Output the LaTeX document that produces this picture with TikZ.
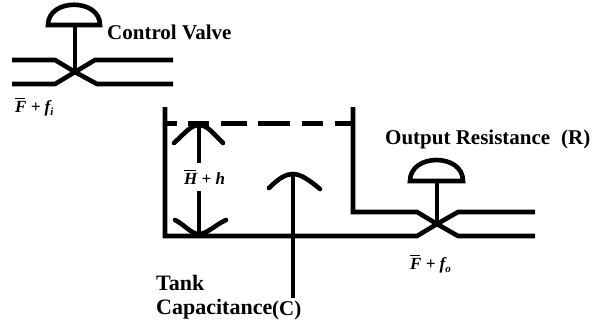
\documentclass[tikz,border=0pt]{standalone}
\usepackage{fontspec}
\setmainfont{Liberation Serif}
\tikzset{
  pipe/.style={line width=4.6pt,line join=miter},
  label text/.style={font=\bfseries\fontsize{21}{23}\selectfont,text=black,inner sep=0pt,anchor=base west},
  tank text/.style={label text,font=\bfseries\fontsize{22}{24}\selectfont},
  math text/.style={font=\bfseries\itshape\fontsize{17}{19}\selectfont,inner sep=0pt,anchor=base west}
}
\newcommand{\barF}{\rlap{\raisebox{0.78em}{\rule{0.6em}{0.8pt}}}F}
\newcommand{\barH}{\rlap{\raisebox{0.78em}{\rule{0.72em}{0.8pt}}}H}
\begin{document}
\begin{tikzpicture}[x=1pt,y=-1pt]
\useasboundingbox (0,0) rectangle (592,322);
% inlet valve
\draw[pipe] (12,60) -- (55,60) -- (75,72) -- (95,60) -- (173,60);
\draw[pipe] (12,84) -- (55,84) -- (75,72) -- (97,84) -- (173,84);
\draw[pipe] (75,72) -- (75,25);
\draw[pipe] (48,25) -- (100,25) .. controls (100,-2) and (48,-2) .. cycle;
% tank
\draw[pipe] (165,107) -- (165,236) -- (417,236) -- (437,224) -- (458,236) -- (535,236);
\draw[pipe] (353,107) -- (353,212) -- (417,212) -- (437,224) -- (458,212) -- (535,212);
% outlet valve
\draw[pipe] (437,224) -- (437,181);
\draw[pipe] (410,181) -- (463,181) .. controls (463,153) and (410,153) .. cycle;
% level
\draw[pipe] (167,123.5) -- (177,123.5);
\draw[pipe] (188,123.5) -- (209,123.5);
\draw[pipe] (221,123.5) -- (247,123.5);
\draw[pipe] (258,123.5) -- (290,123.5);
\draw[pipe] (302,123.5) -- (323,123.5);
\draw[pipe] (335,123.5) -- (352,123.5);
% level arrows
\draw[pipe] (199,163) -- (199,124);
\draw[pipe,line cap=round] (174,143) .. controls (185,133) and (191,125) .. (199,125) .. controls (207,125) and (213,133) .. (223,143);
\draw[pipe] (199,191) -- (199,234);
\draw[pipe,line cap=round] (175,220) .. controls (185,225) and (191,234) .. (199,234) .. controls (207,234) and (215,225) .. (226,220);
% capacitance arrow
\draw[pipe] (293,298) -- (293,174);
\draw[pipe,line cap=round] (269,188) .. controls (279,178) and (286,174) .. (293,174) .. controls (300,174) and (308,179) .. (320,189);
% labels
\node[label text] (cv) at (107,39) {Control Valve};
\node[label text] (or) at (385,144) {Output Resistance};
\node[label text] (orr) at (561,144) {(R)};
\node[tank text] (tank) at (156,290) {Tank};
\node[tank text] (cap) at (156,314) {Capacitance};
\node[label text] (capc) at (272,315) {(C)};
\node[math text] (fi) at (15,112) {\barF\ + \textit{f}\raisebox{-0.2em}{\fontsize{11}{11}\selectfont\textit{i}}};
\node[math text] (fo) at (410,269) {\barF\ + \textit{f}\raisebox{-0.2em}{\fontsize{11}{11}\selectfont\textit{o}}};
\node[math text] (hh) at (184,184) {\barH\ + \textit{h}};
\end{tikzpicture}
\end{document}
